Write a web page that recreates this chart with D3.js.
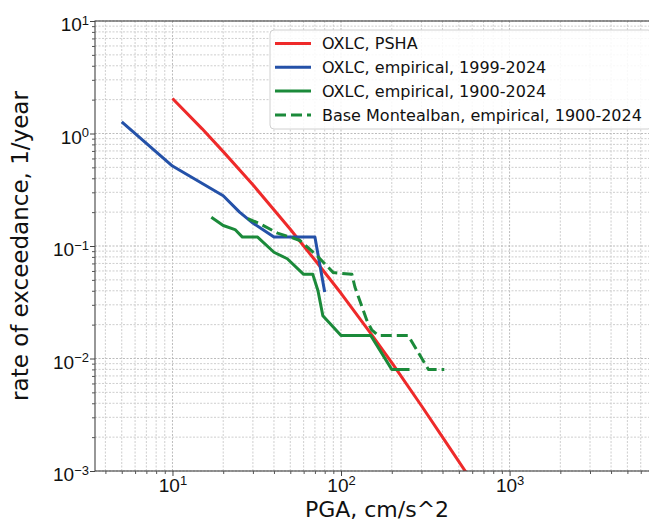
<!DOCTYPE html>
<html lang="en">
<head>
    <meta charset="UTF-8">
    <title>Rate of exceedance vs PGA</title>
    <script src="https://d3js.org/d3.v7.min.js"></script>
    <style>
        body {
            margin: 0;
            background-color: #ffffff;
            font-family: "DejaVu Sans", sans-serif;
        }
        .axis-label {
            font-size: 23px;
            fill: #111;
        }
        .tick-label {
            font-size: 19px;
            fill: #111;
        }
        .legend-text {
            font-size: 16px;
            fill: #111;
        }
    </style>
</head>
<body>
    <div id="chart"></div>

    <script>
        // Data (PGA in cm/s^2, rate in 1/year)
        const pshaPga = [10, 15, 20, 30, 50, 70, 100, 150, 200, 300, 400, 550];
        const pshaRate = [2.05, 1.10, 0.69, 0.35, 0.141, 0.075, 0.038, 0.0167, 0.0092, 0.0038, 0.002, 0.00098];

        const emp1999Pga = [5, 10, 20, 25, 30, 40, 70, 80];
        const emp1999Rate = [1.27, 0.514, 0.28, 0.2, 0.16, 0.12, 0.12, 0.039];

        const emp1900Pga = [17, 20, 23.5, 26, 32, 40, 48, 60, 68, 73, 78, 100, 150, 200, 255];
        const emp1900Rate = [0.18, 0.152, 0.14, 0.12, 0.12, 0.088, 0.077, 0.056, 0.056, 0.040, 0.024, 0.016, 0.016, 0.008, 0.008];

        const baseMbPga = [28, 33, 42, 50, 57, 72, 90, 116, 121, 142, 152, 166, 250, 330, 410];
        const baseMbRate = [0.175, 0.158, 0.13, 0.12, 0.112, 0.082, 0.058, 0.056, 0.043, 0.022, 0.018, 0.016, 0.016, 0.008, 0.008];

        const seriesNames = [
            "OXLC, PSHA",
            "OXLC, empirical, 1999-2024",
            "OXLC, empirical, 1900-2024",
            "Base Montealban, empirical, 1900-2024"
        ];

        const xMajorTicks = [10, 100, 1000];
        const yMajorTicks = [0.001, 0.01, 0.1, 1, 10];
        const xExponents = ["1", "2", "3"];
        const yExponents = ["\u22123", "\u22122", "\u22121", "0", "1"];

        const series = [
            { name: seriesNames[0], x: pshaPga, y: pshaRate, color: "#ee2a2a", dash: null },
            { name: seriesNames[1], x: emp1999Pga, y: emp1999Rate, color: "#2451a8", dash: null },
            { name: seriesNames[2], x: emp1900Pga, y: emp1900Rate, color: "#1b8a3a", dash: null },
            { name: seriesNames[3], x: baseMbPga, y: baseMbRate, color: "#1b8a3a", dash: "11,5" }
        ];

        const W = 649, H = 523;
        const plot = { left: 95, top: 21, right: 659, bottom: 471 };

        const svg = d3.select("#chart")
            .append("svg")
            .attr("width", W)
            .attr("height", H);

        const x = d3.scaleLog()
            .domain([3.47, 7700])
            .range([plot.left, plot.right]);

        const y = d3.scaleLog()
            .domain([0.001, 10])
            .range([plot.bottom, plot.top]);

        // minor tick values 2..9 for each decade
        function minorTicks(lo, hi) {
            const out = [];
            for (let e = Math.floor(Math.log10(lo)); e <= Math.ceil(Math.log10(hi)); e++) {
                for (let m = 2; m <= 9; m++) {
                    const v = m * Math.pow(10, e);
                    if (v > lo && v < hi) out.push(v);
                }
            }
            return out;
        }
        const xMinor = minorTicks(x.domain()[0], x.domain()[1]);
        const yMinor = minorTicks(y.domain()[0], y.domain()[1]);

        // grid
        const grid = svg.append("g");
        grid.selectAll(".gx")
            .data(xMinor.concat(xMajorTicks))
            .enter()
            .append("line")
            .attr("x1", d => x(d)).attr("x2", d => x(d))
            .attr("y1", plot.top).attr("y2", plot.bottom)
            .attr("stroke", d => xMajorTicks.includes(d) ? "#b4b4b4" : "#c8c8c8")
            .attr("stroke-width", 0.9)
            .attr("stroke-dasharray", "2,1.5");
        grid.selectAll(".gy")
            .data(yMinor.concat(yMajorTicks))
            .enter()
            .append("line")
            .attr("y1", d => y(d)).attr("y2", d => y(d))
            .attr("x1", plot.left).attr("x2", plot.right)
            .attr("stroke", d => yMajorTicks.includes(d) ? "#b4b4b4" : "#c8c8c8")
            .attr("stroke-width", 0.9)
            .attr("stroke-dasharray", "2,1.5");

        // clip the curves to the axes area
        svg.append("clipPath")
            .attr("id", "clip")
            .append("rect")
            .attr("x", plot.left)
            .attr("y", plot.top)
            .attr("width", plot.right - plot.left)
            .attr("height", plot.bottom - plot.top);

        const line = d3.line()
            .x(d => x(d[0]))
            .y(d => y(d[1]));

        svg.append("g")
            .attr("clip-path", "url(#clip)")
            .selectAll("path")
            .data(series)
            .enter()
            .append("path")
            .attr("d", s => line(s.x.map((v, i) => [v, s.y[i]])))
            .attr("fill", "none")
            .attr("stroke", s => s.color)
            .attr("stroke-width", 3)
            .attr("stroke-linejoin", "round")
            .attr("stroke-dasharray", s => s.dash);

        // frame
        svg.append("rect")
            .attr("x", plot.left)
            .attr("y", plot.top)
            .attr("width", plot.right - plot.left)
            .attr("height", plot.bottom - plot.top)
            .attr("fill", "none")
            .attr("stroke", "#444")
            .attr("stroke-width", 1.1);

        // axes
        function supLabels(g, exps) {
            g.selectAll(".tick text").each(function(d, i) {
                const t = d3.select(this);
                t.text(null).attr("class", "tick-label").attr("fill", "#111");
                t.append("tspan").text("10");
                t.append("tspan")
                    .attr("dy", "-0.5em")
                    .attr("font-size", "13px")
                    .text(exps[i]);
            });
        }

        const xAxis = svg.append("g")
            .attr("transform", `translate(0,${plot.bottom})`)
            .call(d3.axisBottom(x).tickValues(xMajorTicks).tickSize(5).tickPadding(2.5));
        xAxis.select(".domain").remove();
        xAxis.selectAll(".tick line").attr("stroke", "#444");
        supLabels(xAxis, xExponents);

        svg.append("g")
            .attr("transform", `translate(0,${plot.bottom})`)
            .call(d3.axisBottom(x).tickValues(xMinor).tickSize(3).tickFormat(""))
            .call(g => g.select(".domain").remove())
            .selectAll(".tick line").attr("stroke", "#555");

        const yAxis = svg.append("g")
            .attr("transform", `translate(${plot.left},0)`)
            .call(d3.axisLeft(y).tickValues(yMajorTicks).tickSize(5).tickPadding(1));
        yAxis.select(".domain").remove();
        yAxis.selectAll(".tick line").attr("stroke", "#444");
        yAxis.selectAll(".tick text").attr("dy", "0.5em");
        supLabels(yAxis, yExponents);

        svg.append("g")
            .attr("transform", `translate(${plot.left},0)`)
            .call(d3.axisLeft(y).tickValues(yMinor).tickSize(3).tickFormat(""))
            .call(g => g.select(".domain").remove())
            .selectAll(".tick line").attr("stroke", "#555");

        // axis titles
        svg.append("text")
            .attr("class", "axis-label")
            .attr("x", (plot.left + plot.right) / 2)
            .attr("y", 517)
            .style("font-size", "22px")
            .style("text-anchor", "middle")
            .text("PGA, cm/s^2");

        svg.append("text")
            .attr("class", "axis-label")
            .attr("transform", `translate(28,${(plot.top + plot.bottom) / 2}) rotate(-90)`)
            .style("text-anchor", "middle")
            .text("rate of exceedance, 1/year");

        // legend
        const legend = svg.append("g");
        legend.append("rect")
            .attr("x", 270)
            .attr("y", 30)
            .attr("width", 382)
            .attr("height", 99)
            .attr("rx", 4)
            .attr("fill", "#ffffff")
            .attr("fill-opacity", 0.85)
            .attr("stroke", "#d0d0d0");

        series.forEach(function(s, i) {
            const cy = 43.5 + i * 23.8;
            legend.append("line")
                .attr("x1", 275).attr("x2", 311)
                .attr("y1", cy).attr("y2", cy)
                .attr("stroke", s.color)
                .attr("stroke-width", 3)
                .attr("stroke-dasharray", s.dash);
            legend.append("text")
                .attr("class", "legend-text")
                .attr("x", 322)
                .attr("y", cy)
                .attr("dy", "0.36em")
                .text(s.name);
        });
    </script>
</body>
</html>
